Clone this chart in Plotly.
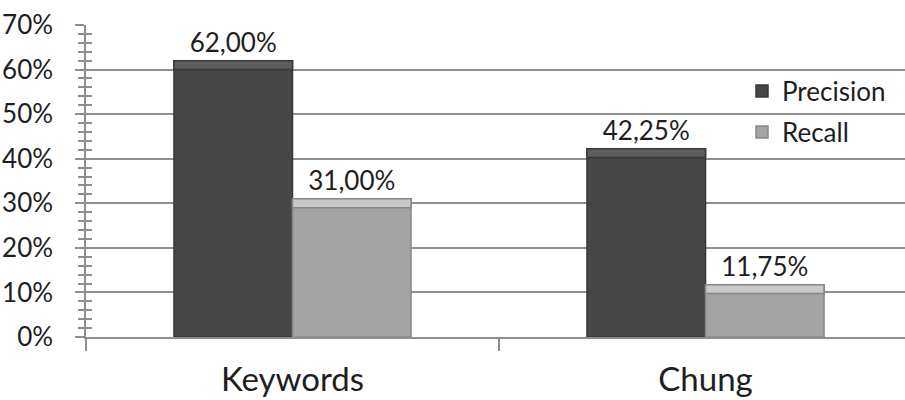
import plotly.graph_objects as go

categories = ["Keywords", "Chung"]
precision = [62.00, 42.25]
recall = [31.00, 11.75]
series_names = ["Precision", "Recall"]
y_ticks = [0, 10, 20, 30, 40, 50, 60, 70]
y_tick_labels = [f"{v}%" for v in y_ticks]

def fmt(v):
    return f"{v:.2f}%".replace(".", ",")

FONT = "Lato"
GRID = "#8e8e8e"
BEVEL = 2.0  # bevel band height in data units (decoration)

fig = go.Figure()

styles = [
    dict(face="#464646", edge="#383838", top="#5e5e5e", legend="legend"),
    dict(face="#a3a3a3", edge="#888888", top="#c9c9c9", legend="legend2"),
]

for name, vals, st in zip(series_names, [precision, recall], styles):
    fig.add_trace(go.Bar(
        name=name, x=categories, y=vals, offsetgroup=name, legend=st["legend"],
        marker=dict(color=st["face"], line=dict(color=st["edge"], width=1.5)),
        text=[fmt(v) for v in vals], textposition="outside",
        textfont=dict(family=FONT, size=26, color="#1e1e1e"),
        cliponaxis=False,
    ))

for name, vals, st in zip(series_names, [precision, recall], styles):
    fig.add_trace(go.Bar(
        name=name + " bevel", x=categories, y=[BEVEL] * len(vals),
        base=[v - BEVEL for v in vals], offsetgroup=name,
        marker=dict(color=st["top"], line=dict(color=st["edge"], width=1.5)),
        showlegend=False, hoverinfo="skip",
    ))

fig.add_trace(go.Scatter(x=[categories[0]], y=[None], yaxis="y2",
                         showlegend=False, hoverinfo="skip", mode="markers"))

legend_common = dict(
    xanchor="left", yanchor="middle",
    font=dict(family=FONT, size=26, color="#1e1e1e"),
    bgcolor="rgba(0,0,0,0)", itemwidth=30,
)

fig.update_layout(
    width=905, height=400,
    margin=dict(l=86, r=0, t=25, b=63, autoexpand=False),
    paper_bgcolor="white", plot_bgcolor="white",
    barmode="group", bargap=0.426, bargroupgap=0,
    font=dict(family=FONT, color="#1e1e1e"),
    showlegend=True,
    legend=dict(x=(742 - 86) / 819, y=(337 - 91) / 312, **legend_common),
    legend2=dict(x=(742 - 86) / 819, y=(337 - 132) / 312, **legend_common),
    xaxis=dict(
        type="category", range=[-0.5, 1.483],
        showline=True, linecolor=GRID, linewidth=1.5,
        ticks="outside", tickson="boundaries", ticklen=12,
        tickcolor=GRID, tickwidth=1.5,
        tickfont=dict(family=FONT, size=33, color="#1e1e1e"),
        ticklabelstandoff=13, showgrid=False,
    ),
    yaxis=dict(
        range=[0, 70], tickvals=y_ticks, ticktext=y_tick_labels,
        showline=True, linecolor=GRID, linewidth=1.5,
        showgrid=True, gridcolor=GRID, gridwidth=1.5,
        ticks="outside", ticklen=9, tickcolor=GRID, tickwidth=1.5,
        minor=dict(dtick=2, ticks="outside", ticklen=6, tickcolor=GRID,
                   tickwidth=1.5, showgrid=False),
        tickfont=dict(family=FONT, size=26, color="#1e1e1e"),
        ticklabelstandoff=17, zeroline=False,
    ),
    yaxis2=dict(
        overlaying="y", side="left", range=[0, 70], tickvals=y_ticks,
        showticklabels=False, showgrid=False, zeroline=False, showline=False,
        ticks="inside", ticklen=6, tickcolor=GRID, tickwidth=1.5,
        minor=dict(dtick=2, ticks="inside", ticklen=6, tickcolor=GRID,
                   tickwidth=1.5, showgrid=False),
    ),
)

fig.write_html("out.html")
